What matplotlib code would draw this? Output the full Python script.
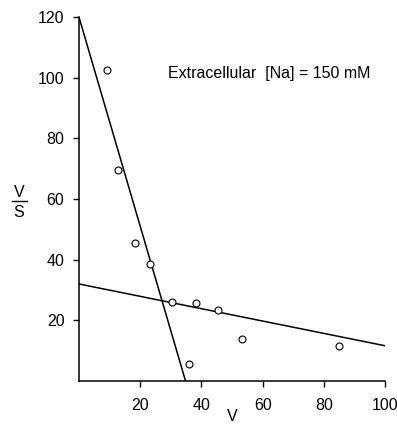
import numpy as np
import matplotlib.pyplot as plt
from matplotlib.lines import Line2D

plt.rcParams['font.family'] = ['Liberation Sans', 'DejaVu Sans']
plt.rcParams['font.size'] = 11.5

# Data
v = [9.3, 12.9, 18.2, 23.3, 30.5, 38.2, 45.3, 53.1, 85.1, 35.8]
v_over_s = [102.6, 69.6, 45.6, 38.7, 26.2, 25.6, 23.4, 13.9, 11.6, 5.6]

# Fitted lines: (intercept on V/S axis, intercept on V axis)
steep_line = (120, 34.8)
shallow_line = (32, 157)

fig = plt.figure(figsize=(3.97, 4.30), dpi=100)
ax = fig.add_axes([0.199, 0.114, 0.771, 0.846])

ax.plot(v, v_over_s, 'o', mfc='white', mec='black', ms=5, mew=0.8, zorder=3)

x1 = np.array([0, steep_line[1]])
ax.plot(x1, steep_line[0] * (1 - x1 / steep_line[1]), 'k-', lw=1.1)
x2 = np.array([0, 100])
ax.plot(x2, shallow_line[0] * (1 - x2 / shallow_line[1]), 'k-', lw=1.1)

ax.set_xlim(0, 100)
ax.set_ylim(0, 120)
ax.set_xticks([20, 40, 60, 80, 100])
ax.set_yticks([20, 40, 60, 80, 100, 120])
ax.spines['top'].set_visible(False)
ax.spines['right'].set_visible(False)
ax.spines['left'].set_linewidth(1.1)
ax.spines['bottom'].set_linewidth(1.1)
ax.tick_params(direction='out', length=4.5, width=1, labelsize=11.5, pad=6)
ax.tick_params(axis='x', pad=8)
for lab in ax.get_xticklabels():
    lab.set_clip_on(False)

ax.set_xlabel('V', labelpad=-3)

# V/S label drawn as a stacked fraction
fig.text(19 / 397, 1 - 197 / 430, 'V', ha='center', va='baseline', fontsize=11.5)
fig.text(19 / 397, 1 - 217 / 430, 'S', ha='center', va='baseline', fontsize=11.5)
fig.add_artist(Line2D([12 / 397, 27 / 397], [1 - 201 / 430, 1 - 201 / 430],
                      color='black', lw=1.0, transform=fig.transFigure))

ax.text(0.29, 0.845, 'Extracellular  [Na] = 150 mM', transform=ax.transAxes,
        fontsize=11.5, va='center')

fig.savefig('out.png', dpi=100)
